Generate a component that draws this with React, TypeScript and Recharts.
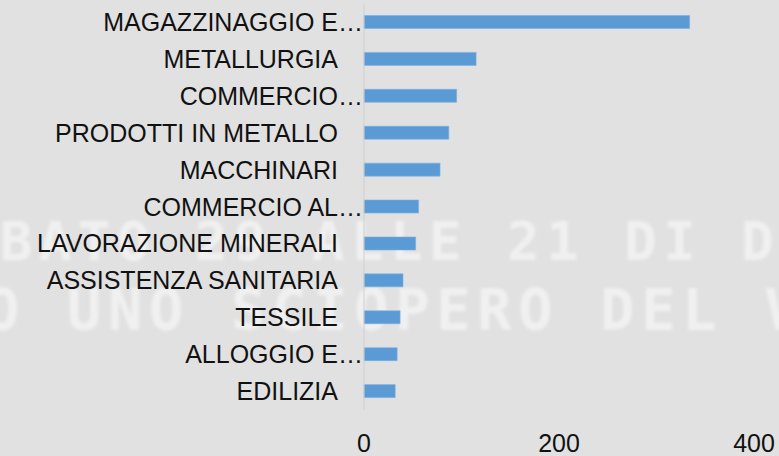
import React from 'react';
import { Bar, BarChart, XAxis, YAxis } from 'recharts';

const sectors = [
  'MAGAZZINAGGIO E…',
  'METALLURGIA',
  'COMMERCIO…',
  'PRODOTTI IN METALLO',
  'MACCHINARI',
  'COMMERCIO AL…',
  'LAVORAZIONE MINERALI',
  'ASSISTENZA SANITARIA',
  'TESSILE',
  'ALLOGGIO E…',
  'EDILIZIA',
];
const counts = [334, 115, 95, 87, 78, 56, 53, 40, 37, 34, 32];
const xTicks = [0, 200, 400];
const ghostLines = ['BATO 29 ALLE 21 DI D', 'O UNO SCIOPERO DEL V'];

const data = sectors.map((name, i) => ({ name, value: counts[i] }));

const FONT = '"Liberation Sans", Arial, sans-serif';

const SectorTick = (props: any) => {
  const { x, y, payload } = props;
  const label: string = payload.value;
  const cut = label.endsWith('…');
  const main = cut ? label.slice(0, -1) : label;
  return (
    <g>
      <text x={x - 18} y={y} dy="0.36em" textAnchor="end" fill="#111" fontSize={25} fontFamily={FONT}>
        {main}
      </text>
      {cut && (
        <text x={x - 18} y={y} dy="0.36em" textAnchor="start" fill="#111" fontSize={25} fontFamily={FONT}>
          …
        </text>
      )}
    </g>
  );
};

const ValueTick = (props: any) => {
  const { x, y, payload } = props;
  return (
    <text x={x} y={y} dy="0.71em" textAnchor="middle" fill="#111" fontSize={25} fontFamily={FONT}>
      {payload.value}
    </text>
  );
};

const App: React.FC = () => {
  return (
    <div style={{ position: 'absolute', left: 0, top: 0, width: 779, height: 456, background: '#e1e1e1', overflow: 'hidden' }}>
      {/* faded photo text behind the chart */}
      <svg width={779} height={456} style={{ position: 'absolute', left: 0, top: 0 }}>
        <defs>
          <filter id="soft">
            <feGaussianBlur stdDeviation="1.8" />
          </filter>
        </defs>
        <g filter="url(#soft)" fill="#f4f4f4" fillOpacity={0.8} fontFamily='"DejaVu Sans Mono", monospace' fontWeight="bold">
          <text x={0} y={260} fontSize={54} letterSpacing={6.5} xmlSpace="preserve">{ghostLines[0]}</text>
          <text x={-15} y={330} fontSize={57} letterSpacing={6.7} xmlSpace="preserve">{ghostLines[1]}</text>
        </g>
      </svg>
      <div style={{ position: 'absolute', left: 0, top: 0 }}>
        <BarChart
          width={779}
          height={456}
          data={data}
          layout="vertical"
          margin={{ top: 3.5, right: 25, left: 0, bottom: 0 }}
        >
          <XAxis
            type="number"
            domain={[0, 400]}
            ticks={xTicks}
            axisLine={false}
            tickLine={false}
            tickMargin={19}
            height={46.5}
            tick={<ValueTick />}
          />
          <YAxis
            type="category"
            dataKey="name"
            width={364}
            axisLine={{ stroke: '#cfcfcf', strokeWidth: 1 }}
            tickLine={false}
            interval={0}
            tick={<SectorTick />}
          />
          <Bar
            dataKey="value"
            fill="#5b9bd5"
            stroke="#7cb0e0"
            strokeWidth={0.6}
            barSize={13}
            isAnimationActive={false}
          />
        </BarChart>
      </div>
    </div>
  );
};

export default App;
